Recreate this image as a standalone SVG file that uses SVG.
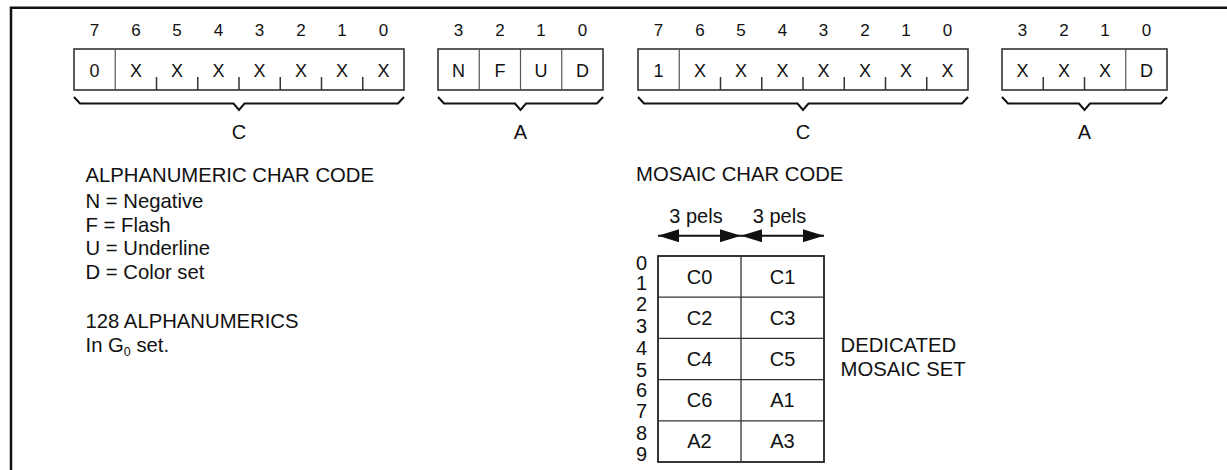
<svg xmlns="http://www.w3.org/2000/svg" width="1227" height="470" viewBox="0 0 1227 470">
<style>
text{font-family:"Liberation Sans",Arial,sans-serif;fill:#111}
.bit{font-size:17px;text-anchor:middle}
.cell{font-size:18px;text-anchor:middle}
.lbl{font-size:20px;text-anchor:middle}
.body{font-size:20.3px}
.box{fill:none;stroke:#333;stroke-width:1.6}
.div{stroke:#555;stroke-width:1.2}
.tick{stroke:#333;stroke-width:1.5}
.brace{fill:none;stroke:#111;stroke-width:2}
.frame{fill:none;stroke:#111;stroke-width:2.5}
.grid{fill:none;stroke:#222;stroke-width:1.8}
.gdiv{stroke:#333;stroke-width:1.3}
.arr{stroke:#111;stroke-width:2;marker-start:url(#ah);marker-end:url(#ah)}
</style>
<defs>
<marker id="ah" viewBox="0 0 21 13" refX="21" refY="6.5" markerWidth="21" markerHeight="13" markerUnits="userSpaceOnUse" orient="auto-start-reverse">
<path d="M0,0 L21,6.5 L0,13 Z" fill="#111"/>
</marker>
</defs>
<path class="frame" d="M11,470 V7.8 H1227"/>

<g id="reg-alpha-c">
<text class="bit" x="94.6" y="36">7</text><text class="bit" x="135.9" y="36">6</text><text class="bit" x="177.1" y="36">5</text><text class="bit" x="218.4" y="36">4</text><text class="bit" x="259.6" y="36">3</text><text class="bit" x="300.9" y="36">2</text><text class="bit" x="342.1" y="36">1</text><text class="bit" x="383.4" y="36">0</text>
<rect class="box" x="74" y="49" width="330" height="41"/>
<line class="div" x1="115.25" y1="49" x2="115.25" y2="90"/>
<path class="tick" d="M156.5,77V90M197.75,77V90M239,77V90M280.25,77V90M321.5,77V90M362.75,77V90"/>
<text class="cell" x="94.6" y="76.5">0</text><text class="cell" x="135.9" y="76.5">X</text><text class="cell" x="177.1" y="76.5">X</text><text class="cell" x="218.4" y="76.5">X</text><text class="cell" x="259.6" y="76.5">X</text><text class="cell" x="300.9" y="76.5">X</text><text class="cell" x="342.1" y="76.5">X</text><text class="cell" x="383.4" y="76.5">X</text>
<path class="brace" d="M74,97 L80,103.5 H233.5 L239,110 L244.5,103.5 H398 L404,97"/>
<text class="lbl" x="239" y="139">C</text>
</g>

<g id="reg-alpha-a">
<text class="bit" x="458.6" y="36">3</text><text class="bit" x="499.9" y="36">2</text><text class="bit" x="541.1" y="36">1</text><text class="bit" x="582.4" y="36">0</text>
<rect class="box" x="438" y="49" width="165" height="41"/>
<path class="div" d="M479.25,49V90M520.5,49V90M561.75,49V90"/>
<text class="cell" x="458.6" y="76.5">N</text><text class="cell" x="499.9" y="76.5">F</text><text class="cell" x="541.1" y="76.5">U</text><text class="cell" x="582.4" y="76.5">D</text>
<path class="brace" d="M438,97 L444,103.5 H515 L520.5,110 L526,103.5 H597 L603,97"/>
<text class="lbl" x="520.5" y="139">A</text>
</g>

<g id="reg-mosaic-c">
<text class="bit" x="658.6" y="36">7</text><text class="bit" x="699.9" y="36">6</text><text class="bit" x="741.1" y="36">5</text><text class="bit" x="782.4" y="36">4</text><text class="bit" x="823.6" y="36">3</text><text class="bit" x="864.9" y="36">2</text><text class="bit" x="906.1" y="36">1</text><text class="bit" x="947.4" y="36">0</text>
<rect class="box" x="638" y="49" width="330" height="41"/>
<line class="div" x1="679.25" y1="49" x2="679.25" y2="90"/>
<path class="tick" d="M720.5,77V90M761.75,77V90M803,77V90M844.25,77V90M885.5,77V90M926.75,77V90"/>
<text class="cell" x="658.6" y="76.5">1</text><text class="cell" x="699.9" y="76.5">X</text><text class="cell" x="741.1" y="76.5">X</text><text class="cell" x="782.4" y="76.5">X</text><text class="cell" x="823.6" y="76.5">X</text><text class="cell" x="864.9" y="76.5">X</text><text class="cell" x="906.1" y="76.5">X</text><text class="cell" x="947.4" y="76.5">X</text>
<path class="brace" d="M638,97 L644,103.5 H797.5 L803,110 L808.5,103.5 H962 L968,97"/>
<text class="lbl" x="803" y="139">C</text>
</g>

<g id="reg-mosaic-a">
<text class="bit" x="1022.6" y="36">3</text><text class="bit" x="1063.9" y="36">2</text><text class="bit" x="1105.1" y="36">1</text><text class="bit" x="1146.4" y="36">0</text>
<rect class="box" x="1002" y="49" width="165" height="41"/>
<line class="div" x1="1125.75" y1="49" x2="1125.75" y2="90"/>
<path class="tick" d="M1043.25,77V90M1084.5,77V90"/>
<text class="cell" x="1022.6" y="76.5">X</text><text class="cell" x="1063.9" y="76.5">X</text><text class="cell" x="1105.1" y="76.5">X</text><text class="cell" x="1146.4" y="76.5">D</text>
<path class="brace" d="M1002,97 L1008,103.5 H1079 L1084.5,110 L1090,103.5 H1161 L1167,97"/>
<text class="lbl" x="1084.5" y="139">A</text>
</g>

<g id="alpha-legend">
<text class="body" x="85.5" y="181.5">ALPHANUMERIC CHAR CODE</text>
<text class="body" x="85.5" y="208">N = Negative</text>
<text class="body" x="85.5" y="231.7">F = Flash</text>
<text class="body" x="85.5" y="255.4">U = Underline</text>
<text class="body" x="85.5" y="279">D = Color set</text>
<text class="body" x="85.5" y="328">128 ALPHANUMERICS</text>
<text class="body" x="85.5" y="351.7">In G<tspan font-size="12.5" dy="4">0</tspan><tspan dy="-4"> set.</tspan></text>
</g>

<g id="mosaic-title">
<text class="body" x="636" y="180.7">MOSAIC CHAR CODE</text>
</g>

<g id="pels-labels">
<text class="lbl" x="696" y="222.5">3 pels</text>
<text class="lbl" x="779.5" y="222.5">3 pels</text>
</g>

<g id="mosaic-grid">
<rect class="grid" x="658" y="256" width="166" height="206"/>
<path class="gdiv" d="M741,256V462M658,297.2H824M658,338.4H824M658,379.6H824M658,420.8H824"/>
<text class="lbl" x="699.5" y="283.5">C0</text><text class="lbl" x="782.5" y="283.5">C1</text>
<text class="lbl" x="699.5" y="324.7">C2</text><text class="lbl" x="782.5" y="324.7">C3</text>
<text class="lbl" x="699.5" y="365.9">C4</text><text class="lbl" x="782.5" y="365.9">C5</text>
<text class="lbl" x="699.5" y="407.1">C6</text><text class="lbl" x="782.5" y="407.1">A1</text>
<text class="lbl" x="699.5" y="448.3">A2</text><text class="lbl" x="782.5" y="448.3">A3</text>
</g>

<g id="row-numbers">
<text class="lbl" x="641.5" y="269.5">0</text><text class="lbl" x="641.5" y="290">1</text>
<text class="lbl" x="641.5" y="311">2</text><text class="lbl" x="641.5" y="333">3</text>
<text class="lbl" x="641.5" y="355">4</text><text class="lbl" x="641.5" y="376.5">5</text>
<text class="lbl" x="641.5" y="396.5">6</text><text class="lbl" x="641.5" y="418">7</text>
<text class="lbl" x="641.5" y="439.5">8</text><text class="lbl" x="641.5" y="461">9</text>
</g>

<g id="dedicated-label">
<text class="body" x="840.5" y="352">DEDICATED</text>
<text class="body" x="840.5" y="376">MOSAIC SET</text>
</g>

<g id="connectors">
<line class="arr" x1="658" y1="235.7" x2="741" y2="235.7"/>
<line class="arr" x1="741" y1="235.7" x2="824" y2="235.7"/>
</g>
</svg>
